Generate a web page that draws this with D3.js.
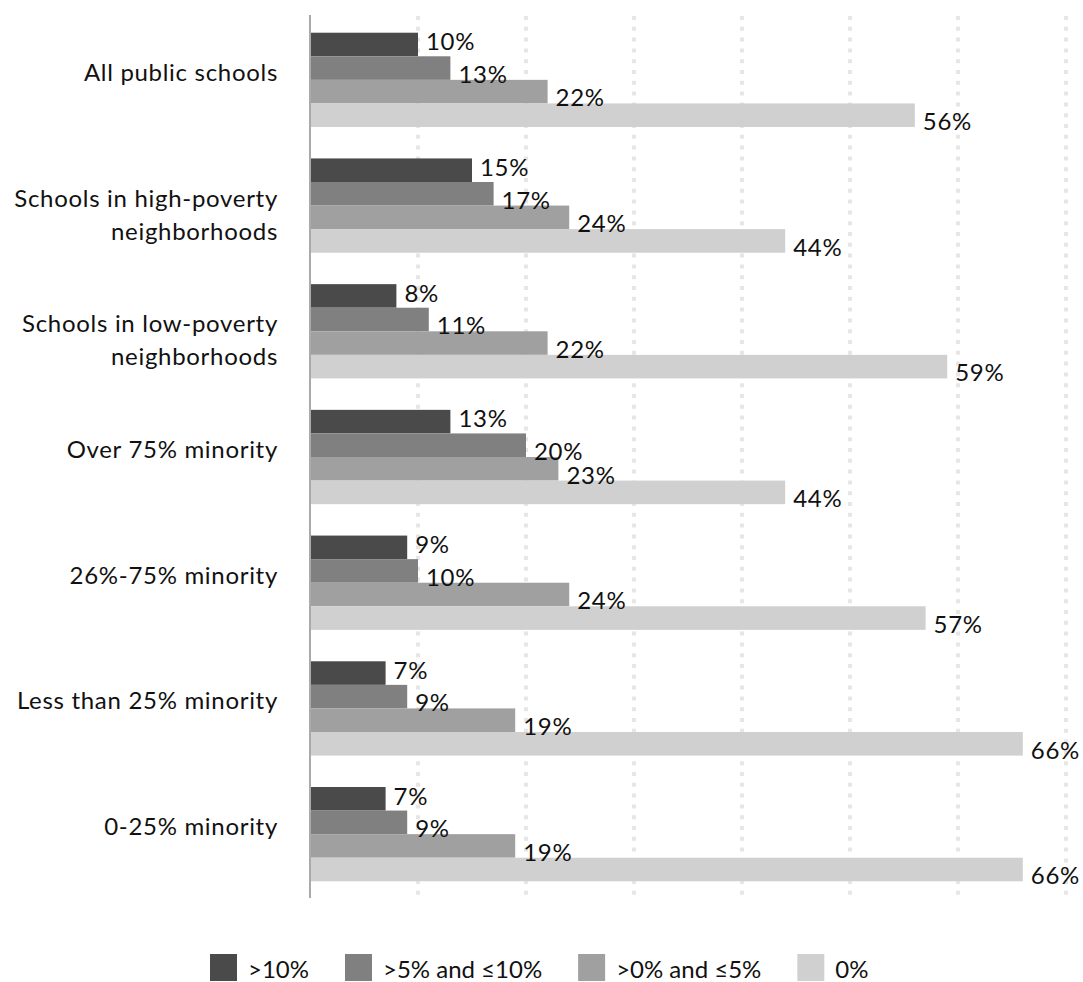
<!DOCTYPE html>
<html>
<head>
<meta charset="utf-8">
<script src="https://cdn.jsdelivr.net/npm/d3@7"></script>
<style>
  html, body { margin: 0; padding: 0; background: #fff; }
  svg text { font-family: Lato, "Open Sans", sans-serif; fill: #111; letter-spacing: 0.7px; }
  svg text.legend-label { letter-spacing: 0; }
</style>
</head>
<body>
<svg id="chart" width="1083" height="982"></svg>
<script>
// -------- DATA --------
const categories = [
  "All public schools",
  "Schools in high-poverty\nneighborhoods",
  "Schools in low-poverty\nneighborhoods",
  "Over 75% minority",
  "26%-75% minority",
  "Less than 25% minority",
  "0-25% minority"
];
const seriesNames = [">10%", ">5% and \u226410%", ">0% and \u22645%", "0%"];
const over10 = [10, 15, 8, 13, 9, 7, 7];
const over5to10 = [13, 17, 11, 20, 10, 9, 9];
const over0to5 = [22, 24, 22, 23, 24, 19, 19];
const zero = [56, 44, 59, 44, 57, 66, 66];
const gridTicks = [10, 20, 30, 40, 50, 60, 70];

const seriesValues = [over10, over5to10, over0to5, zero];
const colors = ["#4a4a4a", "#808080", "#a0a0a0", "#d0d0d0"];

// -------- LAYOUT --------
const svg = d3.select("#chart");
const plotLeft = 310;
const plotTop = 17, plotBottom = 897;
const fontSize = 24;

const x = d3.scaleLinear().domain([0, 10]).range([plotLeft, plotLeft + 108]);

const y0 = d3.scaleBand()
  .domain(categories)
  .range([plotTop, plotBottom])
  .paddingInner(0.25)
  .paddingOuter(0.125);

const y1 = d3.scaleBand()
  .domain(d3.range(seriesNames.length))
  .range([0, y0.bandwidth()]);

// gridlines (dotted)
svg.append("g")
  .selectAll("line")
  .data(gridTicks)
  .enter()
  .append("line")
  .attr("x1", d => x(d))
  .attr("x2", d => x(d))
  .attr("y1", 16)
  .attr("y2", 898)
  .attr("stroke", "#e6e6e6")
  .attr("stroke-width", 4)
  .attr("stroke-dasharray", "4,6.8");

// bars
const rows = categories.map((c, i) => ({
  cat: c,
  vals: seriesValues.map((s, k) => ({ k, v: s[i] }))
}));

const groups = svg.append("g")
  .selectAll("g")
  .data(rows)
  .enter()
  .append("g")
  .attr("transform", d => `translate(0,${y0(d.cat)})`);

groups.selectAll("rect")
  .data(d => d.vals)
  .enter()
  .append("rect")
  .attr("x", x(0))
  .attr("y", d => y1(d.k))
  .attr("width", d => x(d.v) - x(0))
  .attr("height", y1.bandwidth())
  .attr("fill", d => colors[d.k]);

// value labels: first series sits inside the row, the rest hang just below
groups.selectAll("text.val")
  .data(d => d.vals)
  .enter()
  .append("text")
  .attr("class", "val")
  .attr("x", d => x(d.v) + 8)
  .attr("y", d => y1(d.k) + y1.bandwidth() + (d.k === 0 ? -6 : 3))
  .attr("font-size", fontSize)
  .text(d => d.v + "%");

// zero axis line
svg.append("line")
  .attr("x1", x(0))
  .attr("x2", x(0))
  .attr("y1", 15)
  .attr("y2", 898)
  .attr("stroke", "#aaaaaa")
  .attr("stroke-width", 2);

// category labels
const catLabels = svg.append("g")
  .selectAll("text")
  .data(categories)
  .enter()
  .append("text")
  .attr("text-anchor", "end")
  .attr("font-size", fontSize)
  .attr("y", d => y0(d) + y0.bandwidth() / 2 + 1);

catLabels.selectAll("tspan")
  .data(d => d.split("\n"))
  .enter()
  .append("tspan")
  .attr("x", 278)
  .attr("dy", (d, i) => i === 0 ? 0 : 33)
  .text(d => d);

// -------- LEGEND --------
const legend = svg.append("g").attr("transform", "translate(210,954)");
let lx = 0;
seriesNames.forEach((name, k) => {
  const item = legend.append("g").attr("transform", `translate(${lx},0)`);
  item.append("rect")
    .attr("width", 27)
    .attr("height", 27)
    .attr("fill", colors[k]);
  const t = item.append("text")
    .attr("class", "legend-label")
    .attr("x", 38)
    .attr("y", 24)
    .attr("font-size", fontSize)
    .text(name);
  lx += 38 + t.node().getComputedTextLength() + 36;
});
</script>
</body>
</html>
